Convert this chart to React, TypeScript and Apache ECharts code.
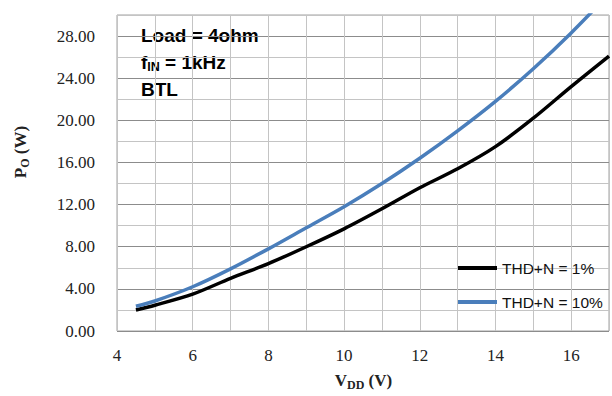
import React, { useEffect, useRef } from "react";
import * as echarts from "echarts";

const vdd = [4.5, 5, 6, 7, 8, 9, 10, 11, 12, 13, 14, 15, 16, 17];
const thd1 = [2.0, 2.45, 3.5, 5.0, 6.4, 8.0, 9.7, 11.6, 13.6, 15.4, 17.5, 20.2, 23.2, 26.1];
const thd10 = [2.35, 2.85, 4.2, 5.9, 7.8, 9.8, 11.8, 14.0, 16.4, 19.0, 21.8, 24.9, 28.3, 32.0];
const seriesNames = ["THD+N = 1%", "THD+N = 10%"];
const annotations = ["Load = 4ohm", "f{sub|IN} = 1kHz", "BTL"];

const serif = "'Liberation Serif', 'Times New Roman', serif";
const sans = "'Liberation Sans', Arial, sans-serif";

export default function App() {
  const ref = useRef<HTMLDivElement>(null);
  useEffect(() => {
    if (!ref.current) return;
    const chart = echarts.init(ref.current, undefined, { renderer: "svg" });
    const option = {
      animation: false,
      grid: {
        left: 117,
        right: 1,
        top: 15,
        bottom: 65,
        show: true,
        borderColor: "#a0a0a0",
        borderWidth: 1,
      },
      xAxis: {
        type: "value",
        min: 4,
        max: 17,
        interval: 1,
        axisLine: { show: false },
        axisTick: { show: false },
        axisLabel: {
          fontFamily: serif,
          fontSize: 17,
          color: "#222",
          margin: 16,
          formatter: (v: number) => (v % 2 === 0 ? String(v) : ""),
        },
        splitLine: { show: true, lineStyle: { color: "#c4c4c4", width: 1 } },
      },
      yAxis: {
        type: "value",
        min: 0,
        max: 30,
        interval: 2,
        axisLine: { show: false },
        axisTick: { show: false },
        axisLabel: {
          fontFamily: serif,
          fontSize: 17,
          color: "#222",
          margin: 22,
          formatter: (v: number) => (v % 4 === 0 ? v.toFixed(2) : ""),
        },
        splitLine: { show: true, lineStyle: { color: ["#8c8c8c", "#c4c4c4"], width: 1 } },
      },
      legend: {
        orient: "vertical",
        left: 453,
        top: 255,
        itemWidth: 39,
        itemHeight: 4,
        itemGap: 18,
        icon: "rect",
        textStyle: { fontFamily: sans, fontSize: 15.5, color: "#111", lineHeight: 16 },
        data: seriesNames,
      },
      series: [
        {
          name: seriesNames[0],
          type: "line",
          data: vdd.map((x, i) => [x, thd1[i]]),
          showSymbol: false,
          smooth: 0.3,
          lineStyle: { color: "#000", width: 3.5 },
          itemStyle: { color: "#000" },
        },
        {
          name: seriesNames[1],
          type: "line",
          data: vdd.map((x, i) => [x, thd10[i]]),
          showSymbol: false,
          smooth: 0.3,
          clip: true,
          lineStyle: { color: "#4a7ebb", width: 3.5 },
          itemStyle: { color: "#4a7ebb" },
        },
      ],
      graphic: [
        ...annotations.map((t, i) => ({
          type: "text",
          left: 141,
          top: 26 + i * 26.8,
          style: {
            text: t,
            fill: "#000",
            font: `bold 19px ${sans}`,
            rich: {
              sub: { fontSize: 12.5, fontWeight: "bold", fontFamily: sans, padding: [9, 0, 0, 0] },
            },
          },
        })),
        {
          type: "text",
          x: 363.5,
          y: 380,
          style: {
            text: "{a|V}{b|DD}{a| (V)}",
            align: "center",
            verticalAlign: "middle",
            rich: {
              a: { fontFamily: serif, fontSize: 17, fontWeight: "bold", lineHeight: 22, fill: "#222" },
              b: { fontFamily: serif, fontSize: 12, fontWeight: "bold", lineHeight: 12, verticalAlign: "bottom", fill: "#222" },
            },
          },
        },
        {
          type: "text",
          x: 20,
          y: 152,
          rotation: Math.PI / 2,
          style: {
            text: "{a|P}{b|O}{a| (W)}",
            align: "center",
            verticalAlign: "middle",
            rich: {
              a: { fontFamily: serif, fontSize: 17, fontWeight: "bold", lineHeight: 22, fill: "#222" },
              b: { fontFamily: serif, fontSize: 12, fontWeight: "bold", lineHeight: 12, verticalAlign: "bottom", fill: "#222" },
            },
          },
        },
      ],
    };
    chart.setOption(option as any);
    return () => chart.dispose();
  }, []);
  return (
    <div
      ref={ref}
      style={{ position: "fixed", left: 0, top: 0, width: 612, height: 396, background: "#fff" }}
    />
  );
}
